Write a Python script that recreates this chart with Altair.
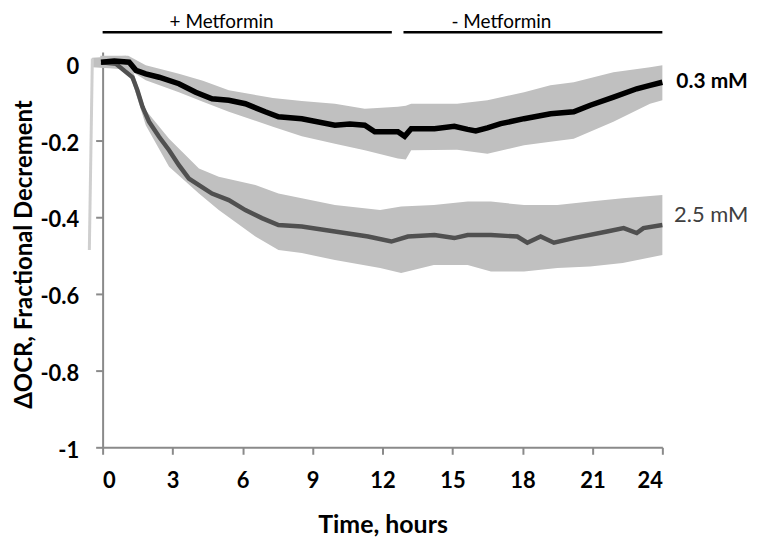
import altair as alt
import pandas as pd

# 0.3 mM mean trace (hours, fractional decrement)
t03 = [-0.07, 0.5, 1.14, 1.43, 1.85, 2.42, 3.27, 3.99, 4.69, 5.41, 6.12, 6.97, 7.54, 8.54, 9.96,
       10.6, 11.24, 11.67, 12.66, 12.95, 13.23, 14.23, 15.08, 15.65, 16.0, 16.5, 17.07, 18.07,
       19.21, 20.2, 20.91, 21.91, 22.9, 23.47, 24.0]
v03 = [0.003, 0.006, 0.003, -0.018, -0.027, -0.036, -0.053, -0.075, -0.092, -0.096, -0.105, -0.126,
       -0.139, -0.144, -0.161, -0.158, -0.161, -0.178, -0.178, -0.19, -0.17, -0.17, -0.164, -0.172,
       -0.176, -0.168, -0.157, -0.144, -0.131, -0.126, -0.109, -0.088, -0.066, -0.057, -0.049]

# 0.3 mM band (upper / lower)
tb03 = [-0.1, 1.1, 1.85, 3.27, 4.3, 5.41, 7.3, 8.54, 9.96, 11.24, 12.66, 13.0, 13.23, 15.2, 16.5,
        18.07, 19.2, 20.2, 21.9, 23.47, 24.0]
hi03 = [0.02, 0.02, -0.005, -0.027, -0.045, -0.07, -0.09, -0.098, -0.105, -0.118, -0.113, -0.11,
        -0.105, -0.105, -0.096, -0.075, -0.057, -0.049, -0.023, -0.01, -0.005]
lo03 = [-0.01, -0.015, -0.044, -0.075, -0.10, -0.126, -0.165, -0.19, -0.209, -0.226, -0.248, -0.25,
        -0.226, -0.225, -0.235, -0.213, -0.204, -0.196, -0.152, -0.105, -0.096]

# 2.5 mM mean trace
t25 = [-0.07, 0.57, 1.28, 1.49, 1.71, 1.99, 2.42, 2.85, 3.27, 3.70, 4.13, 4.69, 5.41, 6.12, 6.83,
       7.54, 8.54, 9.96, 11.38, 12.38, 13.09, 14.23, 15.08, 15.65, 16.65, 17.78, 18.21, 18.78,
       19.35, 20.2, 21.63, 22.34, 22.9, 23.19, 24.0]
v25 = [0.003, -0.001, -0.036, -0.07, -0.113, -0.152, -0.191, -0.226, -0.265, -0.30, -0.317, -0.339,
       -0.356, -0.382, -0.403, -0.421, -0.425, -0.438, -0.451, -0.464, -0.451, -0.447, -0.455,
       -0.447, -0.447, -0.451, -0.467, -0.451, -0.467, -0.455, -0.438, -0.429, -0.442, -0.429, -0.421]

# 2.5 mM band
tb25 = [-0.45, 1.0, 1.28, 1.85, 2.85, 4.13, 4.98, 6.55, 7.54, 8.54, 9.96, 11.9, 12.8, 14.2, 15.65,
        16.65, 18.07, 19.5, 20.9, 22.3, 24.0]
hi25 = [0.015, 0.02, -0.015, -0.122, -0.196, -0.274, -0.295, -0.317, -0.339, -0.351, -0.369, -0.382,
        -0.373, -0.369, -0.360, -0.360, -0.369, -0.369, -0.360, -0.351, -0.343]
lo25 = [-0.01, -0.015, -0.05, -0.161, -0.269, -0.339, -0.382, -0.451, -0.486, -0.494, -0.512, -0.533,
        -0.546, -0.525, -0.525, -0.542, -0.542, -0.533, -0.529, -0.520, -0.499]

# early error spike before t=0
spike_t = [-0.57]
spike_t2 = [-0.44]
spike_lo = [-0.486]
spike_hi = [0.013]

# treatment bars and labels
bar_start = [0, 12.9]
bar_end = [12.4, 24]
bar_label = ["+ Metformin", "- Metformin"]
bar_label_x = [5.1, 17.1]

series_label = ["0.3 mM", "2.5 mM"]
series_label_y = [-0.049, -0.395]

FONT = "Lato"
BAND = "#c0c0c0"

x_scale = alt.Scale(domain=[0, 24], nice=False, zero=False)
y_scale = alt.Scale(domain=[-1, 0.03], nice=False, zero=False)

x_axis = alt.Axis(values=list(range(0, 25, 3)), title="Time, hours", grid=False,
                  domainColor="#8a8a8a", domainWidth=2, tickColor="#8a8a8a", tickWidth=2,
                  tickSize=7, labelFont=FONT, labelFontSize=22, labelFontWeight="bold",
                  labelColor="#000", labelBaseline="middle", labelPadding=26,
                  titleFont=FONT, titleFontSize=25, titleFontWeight="bold", titleColor="#000",
                  titleBaseline="alphabetic", titleY=86)
y_axis = alt.Axis(values=[0, -0.2, -0.4, -0.6, -0.8, -1], title="ΔOCR, Fractional Decrement",
                  grid=False, domainColor="#8a8a8a", domainWidth=2, tickColor="#8a8a8a",
                  tickWidth=2, tickSize=7, labelFont=FONT, labelFontSize=22,
                  labelFontWeight="bold", labelColor="#000", labelPadding=17, labelOffset=3,
                  labelExpr="datum.value == 0 ? '0' : datum.value == -1 ? '-1' : '-0.' + toString(round(-datum.value*10))",
                  titleFont=FONT, titleFontSize=24, titleFontWeight="bold", titleColor="#000",
                  titleAngle=-90, titleBaseline="alphabetic", titleAlign="center",
                  titleX=-71, titleY=203)

band03 = pd.DataFrame({"t": tb03, "hi": hi03, "lo": lo03})
band25 = pd.DataFrame({"t": tb25, "hi": hi25, "lo": lo25})
line03 = pd.DataFrame({"t": t03, "v": v03})
line25 = pd.DataFrame({"t": t25, "v": v25})
spike = pd.DataFrame({"t": spike_t, "t2": spike_t2, "lo": spike_lo, "hi": spike_hi})
bars = pd.DataFrame({"s": bar_start, "e": bar_end, "lab": bar_label, "lx": bar_label_x,
                     "y": [0.081, 0.081], "ty": [0.092, 0.092]})
labs = pd.DataFrame({"lab": series_label, "y": series_label_y, "x": [24.6, 24.5]})

base_x = alt.X("t:Q", scale=x_scale, axis=x_axis)
base_y = alt.Y("hi:Q", scale=y_scale, axis=y_axis)

b1 = alt.Chart(band03).mark_area(color=BAND, opacity=1).encode(
    x=base_x, y=base_y, y2="lo:Q")
b2 = alt.Chart(band25).mark_area(color=BAND, opacity=1).encode(
    x=alt.X("t:Q", scale=x_scale), y=alt.Y("hi:Q", scale=y_scale), y2="lo:Q")
sp = alt.Chart(spike).mark_rule(color="#cfcfcf", strokeWidth=3).encode(
    x=alt.X("t:Q", scale=x_scale), x2="t2:Q",
    y=alt.Y("lo:Q", scale=y_scale), y2="hi:Q")
l2 = alt.Chart(line25).mark_line(color="#505050", strokeWidth=4.5).encode(
    x=alt.X("t:Q", scale=x_scale), y=alt.Y("v:Q", scale=y_scale))
l1 = alt.Chart(line03).mark_line(color="#000000", strokeWidth=5.5).encode(
    x=alt.X("t:Q", scale=x_scale), y=alt.Y("v:Q", scale=y_scale))

br = alt.Chart(bars).mark_rule(color="#000", strokeWidth=2.5).encode(
    x=alt.X("s:Q", scale=x_scale), x2="e:Q", y=alt.Y("y:Q", scale=y_scale))
bt = alt.Chart(bars).mark_text(font=FONT, fontSize=19, color="#000", baseline="alphabetic").encode(
    x=alt.X("lx:Q", scale=x_scale), y=alt.Y("ty:Q", scale=y_scale), text="lab:N")

lab1 = alt.Chart(labs.iloc[[0]]).mark_text(font=FONT, fontSize=21, fontWeight="bold", color="#000",
                                          align="left", baseline="middle").encode(
    x=alt.X("x:Q", scale=x_scale), y=alt.Y("y:Q", scale=y_scale), text="lab:N")
lab2 = alt.Chart(labs.iloc[[1]]).mark_text(font=FONT, fontSize=22, color="#404040",
                                          align="left", baseline="middle").encode(
    x=alt.X("x:Q", scale=x_scale), y=alt.Y("y:Q", scale=y_scale), text="lab:N")

chart = alt.layer(b1, b2, sp, l2, l1, br, bt, lab1, lab2).properties(
    width=562, height=397,
    autosize=alt.AutoSizeParams(type="none"),
    padding={"left": 95, "top": 43, "right": 90, "bottom": 92},
    background="white",
).configure_view(stroke=None)

chart.save("out.html", embed_options={"renderer": "svg", "actions": False})
